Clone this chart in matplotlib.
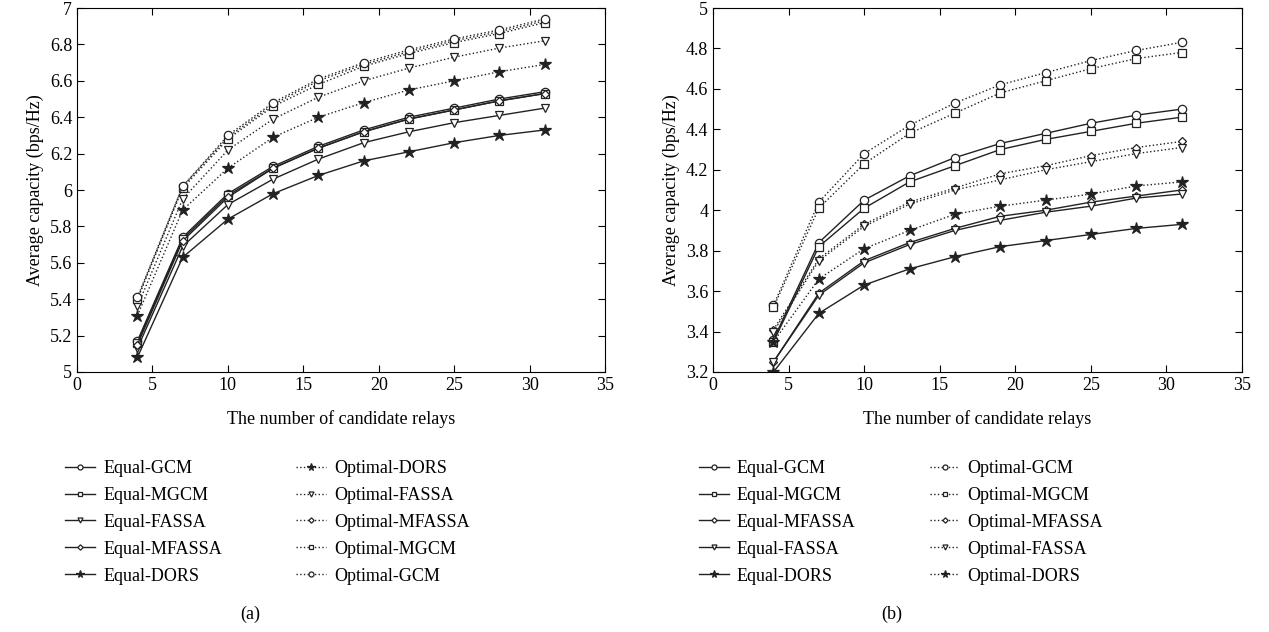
import matplotlib
matplotlib.use("Agg")
import matplotlib.pyplot as plt
from matplotlib.ticker import FuncFormatter

plt.rcParams['font.family'] = ['Liberation Serif', 'DejaVu Serif']

relays = [4, 7, 10, 13, 16, 19, 22, 25, 28, 31]

# panel (a)
a_equal_gcm = [5.17, 5.74, 5.98, 6.13, 6.24, 6.33, 6.40, 6.45, 6.50, 6.54]
a_equal_mgcm = [5.16, 5.73, 5.97, 6.12, 6.23, 6.32, 6.39, 6.44, 6.49, 6.53]
a_equal_fassa = [5.13, 5.69, 5.92, 6.06, 6.17, 6.26, 6.32, 6.37, 6.41, 6.45]
a_equal_mfassa = [5.15, 5.72, 5.96, 6.12, 6.23, 6.32, 6.39, 6.44, 6.49, 6.53]
a_equal_dors = [5.08, 5.63, 5.84, 5.98, 6.08, 6.16, 6.21, 6.26, 6.30, 6.33]
a_opt_dors = [5.31, 5.89, 6.12, 6.29, 6.40, 6.48, 6.55, 6.60, 6.65, 6.69]
a_opt_fassa = [5.36, 5.95, 6.22, 6.39, 6.51, 6.60, 6.67, 6.73, 6.78, 6.82]
a_opt_mfassa = [5.40, 6.02, 6.29, 6.47, 6.60, 6.69, 6.76, 6.82, 6.87, 6.93]
a_opt_mgcm = [5.40, 6.01, 6.28, 6.46, 6.58, 6.68, 6.75, 6.81, 6.86, 6.92]
a_opt_gcm = [5.41, 6.02, 6.30, 6.48, 6.61, 6.70, 6.77, 6.83, 6.88, 6.94]

# panel (b)
b_equal_gcm = [3.36, 3.84, 4.05, 4.17, 4.26, 4.33, 4.38, 4.43, 4.47, 4.50]
b_equal_mgcm = [3.35, 3.82, 4.01, 4.14, 4.22, 4.30, 4.35, 4.39, 4.43, 4.46]
b_equal_mfassa = [3.25, 3.59, 3.75, 3.84, 3.91, 3.97, 4.00, 4.04, 4.07, 4.10]
b_equal_fassa = [3.25, 3.58, 3.74, 3.83, 3.90, 3.95, 3.99, 4.02, 4.06, 4.08]
b_equal_dors = [3.20, 3.49, 3.63, 3.71, 3.77, 3.82, 3.85, 3.88, 3.91, 3.93]
b_opt_gcm = [3.53, 4.04, 4.28, 4.42, 4.53, 4.62, 4.68, 4.74, 4.79, 4.83]
b_opt_mgcm = [3.52, 4.01, 4.23, 4.38, 4.48, 4.58, 4.64, 4.70, 4.75, 4.78]
b_opt_mfassa = [3.41, 3.76, 3.93, 4.04, 4.11, 4.18, 4.22, 4.27, 4.31, 4.34]
b_opt_fassa = [3.40, 3.75, 3.92, 4.03, 4.10, 4.15, 4.20, 4.24, 4.28, 4.31]
b_opt_dors = [3.35, 3.66, 3.81, 3.90, 3.98, 4.02, 4.05, 4.08, 4.12, 4.14]

markers = {"GCM": "o", "MGCM": "s", "FASSA": "v", "MFASSA": "D", "DORS": "*"}

series_a = [
    ("Equal-GCM", a_equal_gcm), ("Equal-MGCM", a_equal_mgcm),
    ("Equal-FASSA", a_equal_fassa), ("Equal-MFASSA", a_equal_mfassa),
    ("Equal-DORS", a_equal_dors), ("Optimal-DORS", a_opt_dors),
    ("Optimal-FASSA", a_opt_fassa), ("Optimal-MFASSA", a_opt_mfassa),
    ("Optimal-MGCM", a_opt_mgcm), ("Optimal-GCM", a_opt_gcm),
]
series_b = [
    ("Equal-GCM", b_equal_gcm), ("Equal-MGCM", b_equal_mgcm),
    ("Equal-MFASSA", b_equal_mfassa), ("Equal-FASSA", b_equal_fassa),
    ("Equal-DORS", b_equal_dors), ("Optimal-GCM", b_opt_gcm),
    ("Optimal-MGCM", b_opt_mgcm), ("Optimal-MFASSA", b_opt_mfassa),
    ("Optimal-FASSA", b_opt_fassa), ("Optimal-DORS", b_opt_dors),
]

fig = plt.figure(figsize=(12.69, 6.32), dpi=100)
ax1 = fig.add_axes([0.0607, 0.4114, 0.4161, 0.5759])
ax2 = fig.add_axes([0.5619, 0.4114, 0.4168, 0.5759])


def draw(ax, series, ylim, yticks, leg_x, cap, cap_text):
    for name, vals in series:
        kind = name.split("-")[1]
        m = markers[kind]
        ls = "-" if name.startswith("Equal") else ":"
        ms = 9 if m == "*" else (4.5 if m == "D" else 6)
        fc = "#222222" if m == "*" else "white"
        ax.plot(relays, vals, linestyle=ls, color="#222222", linewidth=1.0,
                marker=m, markersize=ms, markerfacecolor=fc,
                markeredgecolor="#222222", markeredgewidth=0.9, label=name)
    ax.set_xlim(0, 35)
    ax.set_ylim(*ylim)
    ax.set_xticks(range(0, 36, 5))
    ax.set_yticks(yticks)
    ax.yaxis.set_major_formatter(FuncFormatter(lambda v, p: "%g" % round(v, 2)))
    ax.tick_params(direction="in", top=True, right=True, labelsize=13,
                   length=5, width=0.8)
    ax.set_xlabel("The number of candidate relays", fontsize=13, labelpad=12)
    ax.set_ylabel("Average capacity (bps/Hz)", fontsize=13)
    h, l = ax.get_legend_handles_labels()
    fig.legend(h, l, loc="upper left", bbox_to_anchor=(leg_x, 0.298), ncol=2,
               frameon=False, fontsize=13, handlelength=1.65, markerscale=0.6,
               columnspacing=4.1, labelspacing=0.55, handletextpad=0.45)
    fig.text(cap, 0.02, cap_text, fontsize=13, ha="center")


draw(ax1, series_a, (5, 7), [5 + 0.2 * i for i in range(11)], 0.0386, 0.197, "(a)")
draw(ax2, series_b, (3.2, 5), [3.2 + 0.2 * i for i in range(10)], 0.538, 0.703, "(b)")

fig.savefig("out.png", dpi=100)
